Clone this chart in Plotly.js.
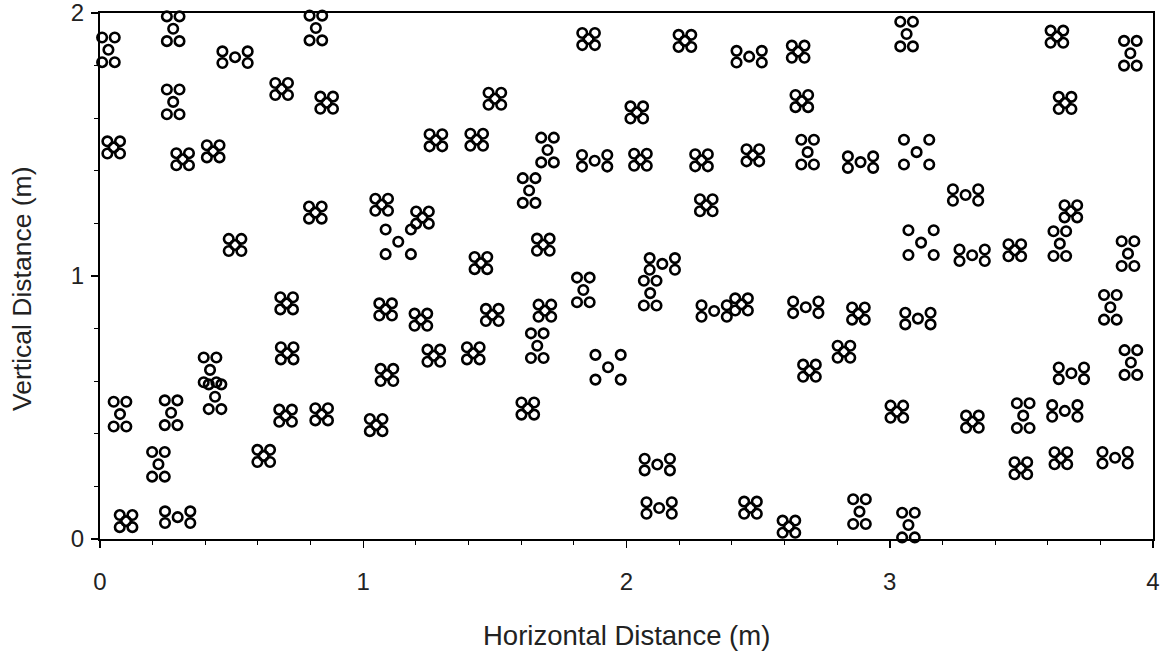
<!DOCTYPE html>
<html><head><meta charset="utf-8">
<script src="https://cdn.plot.ly/plotly-3.0.1.min.js"></script>
<style>html,body{margin:0;padding:0;background:#fff}#chart{width:1169px;height:653px}</style>
</head><body><div id="chart"></div>
<script>
// Cluster centres (m) and cluster arrangement: C compact, H horizontal, V vertical, X spread
const clusterX = [0.032,0.278,0.820,0.513,0.278,0.690,0.861,0.052,0.314,0.430,
  1.856,1.500,1.276,1.431,1.700,1.879,2.222,2.466,2.652,2.039,
  2.666,2.053,2.285,2.480,2.688,2.889,3.064,3.635,3.914,3.666,
  3.102,0.818,0.513,0.709,0.711,1.070,1.225,1.133,1.630,1.684,
  1.447,1.836,1.085,1.219,1.490,1.690,1.661,1.268,1.418,1.930,
  2.303,2.136,2.090,2.333,2.437,2.681,2.881,2.826,2.695,3.288,
  3.688,3.119,3.313,3.475,3.646,3.905,3.107,3.838,3.916,3.690,
  0.418,0.437,0.076,0.270,0.222,0.099,0.295,0.622,0.705,0.842,
  1.090,1.049,1.625,2.117,2.124,2.471,2.617,2.885,3.027,3.314,
  3.507,3.665,3.498,3.650,3.856,3.071];
const clusterY = [1.860,1.940,1.943,1.832,1.662,1.711,1.659,1.489,1.444,1.474,
  1.901,1.674,1.516,1.518,1.479,1.438,1.894,1.834,1.853,1.622,
  1.665,1.442,1.440,1.459,1.471,1.433,1.920,1.910,1.847,1.658,
  1.471,1.241,1.118,0.896,0.706,1.271,1.222,1.130,1.325,1.119,
  1.049,0.947,0.873,0.834,0.852,0.868,0.735,0.697,0.706,0.653,
  1.269,1.046,0.935,0.867,0.892,0.881,0.857,0.712,0.640,1.308,
  1.246,1.127,1.079,1.098,1.123,1.085,0.838,0.881,0.671,0.630,
  0.643,0.541,0.475,0.480,0.284,0.068,0.083,0.316,0.469,0.474,
  0.624,0.433,0.496,0.283,0.118,0.119,0.047,0.104,0.484,0.446,
  0.469,0.487,0.269,0.307,0.309,0.053];
const clusterShape = ['V','V','V','H','V','C','C','C','C','C',
  'C','C','C','C','V','H','C','H','C','C',
  'C','C','C','C','V','H','V','C','V','C',
  'X','C','C','C','C','C','C','X','V','C',
  'C','V','C','C','C','C','V','C','C','X',
  'C','H','V','H','C','H','C','C','C','H',
  'C','X','H','C','V','V','H','V','V','H',
  'V','V','V','V','V','C','H','C','C','C',
  'C','C','C','H','H','C','C','V','C','C',
  'V','H','C','C','H','V'];
// half spacing of the four outer plants around the centre plant (m)
const halfSpacingX = {C:0.024, H:0.048, V:0.024, X:0.048};
const halfSpacingY = {C:0.023, H:0.022, V:0.047, X:0.047};
const xTickVals = [0,1,2,3,4];
const yTickVals = [0,1,2];
const xTitle = 'Horizontal Distance (m)';
const yTitle = 'Vertical Distance (m)';

const px = [], py = [];
const offs = [[-1,1],[1,1],[0,0],[-1,-1],[1,-1]];
for (let i = 0; i < clusterX.length; i++) {
  const s = clusterShape[i];
  for (const [a,b] of offs) {
    px.push(clusterX[i] + a*halfSpacingX[s]);
    py.push(clusterY[i] + b*halfSpacingY[s]);
  }
}

const fam = '"Liberation Sans", Arial, sans-serif';
const trace = {
  x: px, y: py, type:'scatter', mode:'markers', cliponaxis:false,
  marker:{symbol:'circle-open', size:9.5, color:'#000', line:{width:2.6, color:'#000'}},
  hoverinfo:'x+y'
};
const layout = {
  width:1169, height:653,
  margin:{l:100, r:16, t:13, b:114},
  paper_bgcolor:'#fff', plot_bgcolor:'#fff',
  showlegend:false,
  font:{family:fam, color:'#222', size:24},
  xaxis:{range:[0,4], tickvals:xTickVals, ticktext:xTickVals.map(String),
    showgrid:false, zeroline:false, showline:true, mirror:true, linecolor:'#000', linewidth:2,
    ticks:'outside', ticklen:7, tickwidth:1.5, tickcolor:'#000',
    minor:{dtick:0.2, tick0:0, ticks:'outside', ticklen:4, tickwidth:1, tickcolor:'#000'},
    ticklabelstandoff:13, ticklabeloverflow:'allow',
    tickfont:{size:24, family:fam, color:'#222'}},
  yaxis:{range:[0,2], tickvals:yTickVals, ticktext:yTickVals.map(String),
    showgrid:false, zeroline:false, showline:true, mirror:true, linecolor:'#000', linewidth:2,
    ticks:'outside', ticklen:7, tickwidth:1.5, tickcolor:'#000',
    minor:{dtick:0.2, tick0:0, ticks:'outside', ticklen:4, tickwidth:1, tickcolor:'#000'},
    ticklabelstandoff:2, ticklabeloverflow:'allow',
    tickfont:{size:24, family:fam, color:'#222'}},
  annotations:[
    {text:xTitle, xref:'paper', yref:'paper', x:(626-100)/1053, y:(539-635)/526,
     xanchor:'center', yanchor:'middle', showarrow:false, font:{size:27.5, family:fam, color:'#222'}},
    {text:yTitle, xref:'paper', yref:'paper', x:(22-100)/1053, y:(539-289)/526, textangle:-90,
     xanchor:'center', yanchor:'middle', showarrow:false, font:{size:26.5, family:fam, color:'#222'}}
  ]
};
Plotly.newPlot('chart', [trace], layout, {displayModeBar:false, staticPlot:true});
</script>
</body></html>
